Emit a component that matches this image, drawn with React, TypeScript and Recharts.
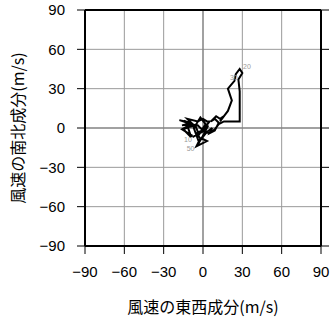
import { ScatterChart, Scatter, XAxis, YAxis, CartesianGrid, ReferenceLine } from 'recharts';

// 風速の東西成分 u / 南北成分 v (m/s)、時系列順
const uValues = [-8, -16, -9, -18, -9, -16, -8, -12, -4, -2, 0, 3, 5, 2, -1, -5, -2, -5, 1, 3, -1, 3, 7, 5, 9, 12, 9, 6, 10, 13, 16, 13, 16, 19, 22, 20, 19, 24, 25, 28, 30, 27, 28, 28, 16, 12, 9, 5, 1, -4, -10, -15, -9, -13, -6, -3, 2, -2, -7, -3, 0, 4, 1, -8];
const vValues = [-6, -1, 3, 6, 4, 2, 3, 7, 5, 6, 7, 5, 5, 1, -2, -4, -8, -14, -11, -10, -8, -3, 0, -4, -2, 4, 7, 5, 9, 7, 9, 5, 9, 13, 21, 27, 30, 36, 41, 45, 42, 37, 28, 5, 5, 3, -1, -4, -3, 2, 1, -1, -7, 5, 2, -5, 3, 8, 0, -11, -6, 2, -2, -7];

// 注記ラベル(位置は u, v)
const labelTexts = ['20', '30', '10', '50'];
const labelU = [33.5, 23.5, -11.5, -9.5];
const labelV = [47, 38.5, -8.5, -15.5];

const ticks = [-90, -60, -30, 0, 30, 60, 90];

const track = uValues.map((u, i) => ({ u, v: vValues[i] }));
const notes = labelTexts.map((t, i) => ({ u: labelU[i], v: labelV[i], t }));

const tickFont = { fontSize: 15, fill: '#000', fontFamily: 'Liberation Sans, Arial, sans-serif' };
const titleFont = 'Noto Sans CJK JP, sans-serif';
const fmt = (v: number) => String(v).replace('-', '\u2212');

const XTitle = ({ viewBox }: any) => (
  <text x={viewBox.x + viewBox.width / 2} y={viewBox.y + 60} textAnchor="middle" dominantBaseline="central"
    fontSize={16} fontFamily={titleFont} fill="#000">風速の東西成分(m/s)</text>
);

const YTitle = ({ viewBox }: any) => {
  const x = viewBox.x + 17;
  const y = viewBox.y + viewBox.height / 2;
  return (
    <text x={x} y={y} transform={`rotate(-90, ${x}, ${y})`} textAnchor="middle" dominantBaseline="central"
      fontSize={16} fontFamily={titleFont} fill="#000">風速の南北成分(m/s)</text>
  );
};

const axisLine = { stroke: '#000', strokeWidth: 2 };
const tickLine = { stroke: '#000', strokeWidth: 1 };

export default function App() {
  return (
    <div style={{ position: 'absolute', left: 0, top: 0, width: 331, height: 318, background: '#fff' }}>
      <ScatterChart width={331} height={318} margin={{ top: 0, right: 0, bottom: 0, left: 0 }}>
        <CartesianGrid stroke="#999" strokeWidth={1} horizontalValues={ticks} verticalValues={ticks} />
        <XAxis dataKey="u" type="number" domain={[-90, 90]} ticks={ticks} height={72} tickSize={8} tickMargin={12}
          tick={tickFont} tickFormatter={fmt} axisLine={axisLine} tickLine={tickLine} allowDataOverflow label={<XTitle />} />
        <XAxis xAxisId="top" orientation="top" type="number" domain={[-90, 90]} ticks={ticks} height={10} tickSize={8}
          tickFormatter={() => ''} axisLine={axisLine} tickLine={tickLine} allowDataOverflow />
        <YAxis dataKey="v" type="number" domain={[-90, 90]} ticks={ticks} width={85} tickSize={8} tickMargin={12}
          tick={tickFont} tickFormatter={fmt} axisLine={axisLine} tickLine={tickLine} allowDataOverflow label={<YTitle />} />
        <YAxis yAxisId="right" orientation="right" type="number" domain={[-90, 90]} ticks={ticks} width={10} tickSize={8}
          tickFormatter={() => ''} axisLine={axisLine} tickLine={tickLine} allowDataOverflow />
        <ReferenceLine x={0} stroke="#777" strokeWidth={1} />
        <ReferenceLine y={0} stroke="#777" strokeWidth={1} />
        <Scatter data={track} line={{ stroke: '#000', strokeWidth: 2 }} shape={() => <g />} isAnimationActive={false} />
        <Scatter data={notes} isAnimationActive={false}
          shape={(p: any) => (
            <text x={p.cx} y={p.cy} textAnchor="middle" dominantBaseline="central" fontSize={7}
              fontFamily="Liberation Sans, Arial, sans-serif" fill="#999">{p.payload.t}</text>
          )} />
      </ScatterChart>
    </div>
  );
}
